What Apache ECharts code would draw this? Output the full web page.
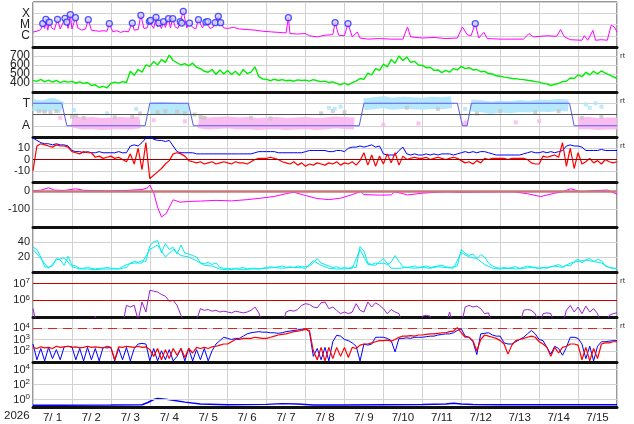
<!DOCTYPE html>
<html><head><meta charset="utf-8">
<script src="https://cdn.jsdelivr.net/npm/echarts@6/dist/echarts.min.js"></script>
<style>html,body{margin:0;padding:0;background:#fff}#c{width:634px;height:424px}</style>
</head><body><div id="c"></div>
<script>
// ================= DATA =================
const yearLabel = '2026';
const dateLabels = ['7/ 1','7/ 2','7/ 3','7/ 4','7/ 5','7/ 6','7/ 7','7/ 8','7/ 9','7/10','7/11','7/12','7/13','7/14','7/15'];
const STEP = 0.1;      // days between samples of the 0.1-day series
const STEP4 = 0.25;    // days between samples of the cloud series
const STEP5 = 0.2;     // days between samples of the second cyan series

// X-ray flux, log10(W/m2): background [day, log] and flare peaks [day, log]
const xrayBaseLog = [[0,-5.67],[0.1,-5.6],[0.2,-5.45],[0.3,-5.35],[0.38,-5.5],[0.48,-5.3],[0.55,-5.45],[0.7,-5.4],[0.75,-5.5],[0.9,-5.35],[1.0,-5.4],[1.15,-5.3],[1.25,-5.5],[1.35,-5.4],[1.5,-5.5],[1.6,-5.55],[1.7,-5.6],[1.8,-5.55],[1.9,-5.6],[2.05,-5.65],[2.15,-5.55],[2.25,-5.7],[2.35,-5.6],[2.45,-5.65],[2.6,-5.5],[2.7,-5.45],[2.85,-5.35],[2.93,-5.3],[3.1,-5.35],[3.2,-5.2],[3.3,-5.35],[3.4,-5.25],[3.53,-5.3],[3.65,-5.2],[3.72,-5.35],[3.95,-5.3],[4.1,-5.25],[4.18,-5.4],[4.35,-5.3],[4.55,-5.35],[4.62,-5.25],[4.9,-5.3],[5.0,-5.35],[5.15,-5.25],[5.3,-5.4],[5.5,-5.45],[5.7,-5.5],[5.9,-5.6],[6.1,-5.65],[6.3,-5.7],[6.5,-5.75],[6.6,-5.8],[6.8,-5.85],[6.99,-5.8],[7.1,-6.0],[7.3,-6.1],[7.5,-5.95],[7.7,-5.9],[7.85,-5.95],[8.0,-6.0],[8.2,-6.1],[8.33,-5.67],[8.4,-6.2],[8.6,-6.3],[8.9,-6.25],[9.2,-6.3],[9.5,-6.3],[9.62,-5.22],[9.7,-6.1],[10.0,-6.2],[10.3,-6.15],[10.6,-6.25],[10.9,-6.2],[11.03,-5.22],[11.15,-5.9],[11.25,-6.0],[11.45,-6.2],[11.58,-5.7],[11.67,-6.25],[12.0,-6.3],[12.3,-6.3],[12.6,-6.3],[12.74,-5.8],[12.85,-6.1],[13.2,-6.0],[13.45,-6.05],[13.55,-5.45],[13.65,-6.1],[13.8,-6.35],[14.1,-6.4],[14.16,-6.0],[14.25,-6.4],[14.38,-5.52],[14.45,-6.4],[14.6,-6.35],[14.75,-6.4],[14.85,-5.07],[14.93,-5.2],[15,-5.67]];
const flarePeaksLog = [[0.25,-4.92],[0.33,-4.54],[0.42,-4.8],[0.63,-4.54],[0.82,-4.45],[0.87,-4.78],[0.96,-4.12],[1.09,-4.39],[1.42,-4.57],[1.96,-4.92],[2.55,-4.87],[2.77,-4.18],[2.99,-4.72],[3.02,-4.63],[3.16,-4.36],[3.23,-4.87],[3.35,-4.74],[3.48,-4.48],[3.59,-4.48],[3.78,-4.74],[3.82,-4.87],[3.86,-3.83],[4.02,-4.87],[4.25,-4.57],[4.44,-4.78],[4.49,-4.74],[4.68,-4.84],[4.76,-4.27],[4.82,-4.84],[6.56,-4.39],[7.76,-4.83],[8.09,-4.92],[11.36,-4.92]];

// Solar wind speed (km/s), every 0.1 day
const windSpeed = [430,418,440,412,432,410,428,405,420,410,
 418,400,412,395,405,372,380,350,362,345,
 395,410,398,415,405,530,485,550,520,600,
 585,640,600,660,630,710,650,625,600,615,
 590,620,575,560,530,520,550,495,545,500,
 540,495,530,485,550,505,520,580,470,445,
 440,425,442,428,438,425,430,420,435,428,
 432,420,438,425,415,420,405,412,395,380,
 398,378,405,420,450,440,510,490,560,540,
 610,580,660,620,700,650,690,630,640,600,
 595,570,575,540,545,515,540,520,560,545,
 585,560,570,545,550,525,530,505,500,480,
 475,465,460,450,448,440,438,430,425,415,
 410,395,390,372,385,395,415,420,455,450,
 490,470,520,490,530,500,535,510,490,470,
 450];

// IMF sector polarity: T = 1, A = -1
const polarity = [[0,1],[0.74,1],[0.87,-1],[2.88,-1],[3.0,1],[3.99,1],[4.12,-1],[8.38,-1],[8.5,1],[10.9,1],[11.03,-1],[11.15,-1],[11.26,1],[13.78,1],[13.9,-1],[15,-1]];
const polCloudT = [0.85,0.7,0.95,0.6,null,null,null,null,null,null,null,null,0.55,0.6,0.55,0.5,0.45,
 null,null,null,null,null,null,null,null,null,null,null,null,null,null,null,null,null,
 0.9,1.0,1.1,0.95,1.05,1.0,0.95,1.05,1.0,1.1,null,0.8,0.75,0.6,0.7,0.65,0.75,0.7,0.8,0.75,0.85,0.8,
 null,null,null,null,null];
const polCloudA = [null,null,null,null,-0.6,-0.8,-0.75,-0.85,-0.8,-0.75,-0.8,-0.7,null,null,null,null,null,
 -0.7,-0.8,-0.75,-0.7,-0.8,-0.75,-0.85,-0.8,-0.75,-0.85,-0.8,-0.75,-0.85,-0.8,-0.7,-0.75,-0.8,
 null,null,null,null,null,null,null,null,null,null,null,null,null,null,null,null,null,null,null,null,null,null,
 -0.8,-0.75,-0.85,-0.8,-0.8];
const polGrayPts = [[0.15,0.3],[0.3,0.25],[0.45,0.2],[0.6,0.3],[1.0,-0.2],[1.1,-0.1],[1.3,-0.3],[2.1,-0.25],[2.55,-0.2],[2.75,0.1],[3.2,0.2],[3.4,0.3],[3.7,0.25],[3.9,0.1],[4.15,0.0],[4.3,-0.2],[4.4,-0.3],[5.6,-0.3],[6.1,-0.35],[7.4,0.1],[7.7,0.3],[8.0,0.2],[9.6,0.6],[10.4,0.5],[11.4,0.1],[12.0,0.3],[12.9,0.2],[13.5,0.3],[14.1,-0.3],[14.6,-0.2]];
const polBluePts = [[1.05,0.4],[1.9,0.1],[2.65,0.5],[7.6,0.6],[7.75,0.5],[7.9,0.7],[11.1,0.5],[14.2,0.9],[14.3,0.6],[14.45,1.0],[14.6,0.7]];
const polPinkPts = [[0.7,-0.3],[3.1,-0.5],[3.9,-0.6],[9.0,-0.9],[9.9,-0.8],[11.05,-0.8],[11.1,-0.9],[11.12,-0.7],[12.4,-0.7],[13.0,-0.6]];

// IMF |B| (blue) and Bz (red), nT, every 0.1 day
const imfBt = [19,17,15,14,14,13,14,13,13,12,
 8,7,7,6,7,6,6,7,6,6,
 6,6,7,6,6,12,13,12,15,19,
 20,18,17,17,16,17,12,7,6,6,
 6,6,5,5,5,5,5,5,5,5,
 5,5,5,5,5,5,5,6,7,7,
 7,7,7,6,6,6,6,6,6,6,
 7,8,8,8,8,8,7,7,8,8,
 7,10,11,11,12,11,12,13,11,12,
 5,4,4,4,8,11,5,4,5,4,
 4,5,4,5,4,5,5,5,4,5,
 6,7,6,7,6,7,7,6,5,4,
 4,4,4,4,4,4,5,6,7,6,
 6,7,6,7,6,7,8,12,13,12,
 12,11,8,8,8,8,9,8,8,8,
 8];
const imfBz = [-10,12,14,13,12,11,13,12,12,11,
 7,6,5,7,6,6,2,3,1,2,
 3,1,2,0,-2,5,-4,10,-9,15,
 -17,-14,-11,-8,-4,-1,5,6,5,3,
 -1,-2,-3,-2,-4,-3,-2,-4,-3,-2,
 -3,-4,-2,-3,-3,-4,-2,0,1,1,
 1,2,1,0,-2,-3,-4,-2,-5,-3,
 -6,-4,-5,-3,-4,-5,-3,-4,-2,-5,
 -3,-4,-2,-5,-1,6,-5,4,-6,3,
 -4,5,-3,6,-5,3,0,1,2,1,
 1,2,0,1,2,1,0,1,2,1,
 -1,-3,-2,-4,-1,-3,1,0,1,1,
 1,1,0,1,1,1,1,0,-3,-4,
 -4,3,2,3,4,2,15,-6,10,-8,
 6,-4,-2,1,-3,-1,-4,0,-2,-3,
 -2];

// Dst index (nT) [day, value]
const dst = [[0,2],[0.2,4],[0.4,18],[0.55,5],[0.8,3],[1.1,12],[1.3,4],[1.6,2],[2.0,1],[2.4,3],[2.8,8],[2.95,18],[3.0,33],[3.1,-10],[3.2,-90],[3.3,-144],[3.42,-125],[3.6,-49],[3.78,-62],[4.0,-58],[4.3,-56],[4.7,-52],[5.1,-55],[5.5,-48],[5.85,-40],[6.2,-30],[6.5,-15],[6.7,-7],[7.0,-25],[7.3,-42],[7.6,-48],[7.9,-40],[8.2,-20],[8.42,-3],[8.5,-20],[8.9,-23],[9.2,-22],[9.28,-5],[9.45,-12],[9.62,-22],[10.0,-12],[10.3,-8],[10.64,-5],[11.0,-8],[11.5,-6],[12.0,-5],[12.36,-5],[12.7,-15],[13.04,-31],[13.4,-12],[13.6,-5],[13.81,13],[14.07,-5],[14.4,2],[14.75,5],[15,-18]];

// Cyan index, two traces
const cyanA = [33,30,20,7,6,8,18,16,9,21,
 9,8,5,5,6,5,4,5,5,6,
 5,5,4,5,6,12,14,13,15,14,
 35,40,42,26,38,30,33,24,36,25,
 24,22,20,12,11,13,10,12,6,5,
 5,4,5,5,6,4,5,5,4,5,
 6,7,6,7,8,6,7,6,8,7,
 7,8,12,18,12,10,8,6,7,5,
 6,5,7,6,34,28,12,10,12,11,
 12,10,13,22,14,7,6,7,8,6,
 7,8,6,7,8,9,7,6,7,8,
 30,25,22,24,18,23,20,12,8,6,
 5,6,5,6,7,5,6,8,7,6,
 5,6,5,7,8,10,7,9,8,14,
 17,12,16,18,14,17,15,8,6,5,
 5];
const cyanB = [30,18,5,16,19,7,4,4,3,4,
 4,4,10,12,12,30,36,20,30,22,
 20,15,9,8,4,3,4,3,4,4,
 5,6,5,6,6,5,15,9,5,4,
 4,5,30,10,9,18,5,5,6,5,
 6,5,7,6,5,26,20,18,10,5,
 4,5,4,5,6,5,6,8,6,12,
 14,16,14,12,6,4];

// >2 MeV electron fluence, log10, every 0.1 day (4.5 = below scale)
const elec2MeVLog = [5.5,4.5,4.5,4.5,4.5,4.5,4.5,4.5,4.5,4.5,
 4.5,4.5,4.5,4.5,4.5,4.5,5.05,4.5,4.5,4.5,
 4.5,4.5,4.5,4.5,5.7,5.6,5.7,4.8,5.9,5.3,
 6.6,6.55,6.5,6.35,6.25,5.95,6.0,5.7,5.1,4.5,
 4.5,4.5,4.8,5.5,5.4,5.45,5.35,5.4,5.3,5.35,
 5.3,5.25,5.35,5.3,5.25,5.3,5.4,5.6,5.25,4.5,
 4.5,4.5,4.5,4.5,4.5,5.3,5.4,5.35,5.45,5.7,
 5.8,5.75,5.6,5.55,5.85,5.9,5.5,5.6,5.4,5.2,
 5.3,5.2,5.3,5.8,5.4,5.3,5.9,5.6,5.85,5.7,
 5.5,5.2,5.45,5.3,5.2,4.5,4.5,4.5,4.5,4.5,
 5.05,5.1,5.05,4.5,4.5,4.5,4.5,5.3,4.5,4.5,
 4.5,5.6,5.7,5.6,5.65,5.5,5.2,5.25,4.5,4.5,
 4.5,4.5,4.5,4.5,4.5,4.5,5.4,5.45,5.4,5.2,
 4.5,5.2,5.25,5.2,4.5,4.5,4.5,5.4,5.7,5.3,
 5.6,5.2,5.65,5.3,5.5,5.2,4.5,4.5,5.1,5.2,
 5.25];

// Electron flux, log10, every 0.1 day: blue and red traces
const elecBlueLog = [2.6,1.2,2.2,1.1,2.3,1.3,2.1,1.2,2.35,2.4,
 2.35,1.2,2.2,1.1,2.3,1.2,2.2,1.1,2.3,2.25,
 2.3,1.1,2.2,1.2,2.3,1.1,2.2,2.6,2.65,2.6,
 1.1,2.2,1.1,2.0,1.2,2.1,1.1,1.5,2.2,1.1,
 2.2,1.1,2.1,1.2,2.2,1.1,2.0,2.6,2.9,3.2,
 3.1,3.0,3.1,3.1,3.3,3.5,3.6,3.65,3.7,3.65,
 3.65,3.6,3.6,3.55,3.6,3.7,3.75,3.8,3.85,3.9,
 3.95,3.7,1.5,2.2,1.2,2.3,1.1,2.8,3.38,3.3,
 3.0,2.9,2.7,2.4,1.1,2.6,2.5,2.6,3.2,3.2,
 3.2,3.1,2.9,1.9,3.1,3.1,3.15,3.1,3.2,3.2,
 3.2,3.25,3.3,3.3,3.4,3.45,3.5,3.5,3.6,3.8,
 3.95,3.3,3.2,2.8,1.66,3.5,3.55,3.6,3.4,3.3,
 3.3,2.7,2.6,2.6,2.8,3.0,3.2,3.5,3.8,3.5,
 3.0,2.9,2.3,1.7,2.4,2.2,1.6,2.3,3.2,3.2,
 3.1,2.6,1.3,2.4,1.1,2.4,2.8,2.8,2.85,2.9,
 2.9];
const elecRedLog = [2.3,2.2,2.35,2.25,2.3,2.2,2.4,2.3,2.35,2.4,
 2.3,2.35,2.25,2.3,2.4,2.3,2.35,2.3,2.25,2.4,
 2.3,1.2,2.35,2.3,2.4,2.35,2.3,2.4,2.3,2.35,
 2.1,1.5,2.2,1.2,2.1,1.3,2.2,1.6,2.2,1.4,
 2.2,1.8,2.3,2.2,2.3,2.2,2.35,2.4,2.5,2.6,
 2.6,2.8,3.0,3.0,3.1,3.1,3.1,3.2,3.15,3.1,
 3.1,3.2,3.3,3.4,3.45,3.5,3.6,3.7,3.75,3.8,
 3.9,3.8,2.0,1.2,2.3,1.1,2.3,1.3,2.3,1.5,
 2.3,1.4,2.3,2.2,2.5,2.6,2.6,2.7,2.8,2.9,
 2.9,2.95,2.85,3.0,3.2,3.3,3.3,3.35,3.3,3.4,
 3.4,3.45,3.5,3.5,3.55,3.6,3.6,3.7,3.75,4.05,
 3.6,3.2,3.2,2.9,2.0,3.0,3.4,3.3,3.2,3.1,
 2.9,2.6,1.7,2.5,2.9,3.0,3.1,3.2,3.3,3.2,
 2.8,2.6,2.3,1.5,2.3,1.8,2.3,2.4,2.6,2.6,
 2.5,1.2,2.3,1.1,2.2,1.3,2.6,2.7,2.7,2.8,
 2.8];

// Proton flux, log10 [day, value]
const protonLog = [[0,-0.75],[0.68,-0.75],[0.7,-0.5],[0.72,-0.75],[2.0,-0.72],[2.8,-0.7],[2.95,-0.4],[3.1,0.0],[3.2,0.12],[3.4,0.05],[3.6,-0.1],[3.9,-0.35],[4.3,-0.6],[5.0,-0.7],[6.0,-0.65],[6.4,-0.55],[6.8,-0.6],[7.2,-0.72],[8.0,-0.72],[9.0,-0.7],[10.0,-0.68],[10.6,-0.6],[10.8,-0.5],[11.0,-0.6],[11.3,-0.68],[12,-0.7],[13,-0.7],[14,-0.7],[15,-0.7]];

// Threshold / reference levels
const elec2MeVThresholds = [6, 7];
const elecThreshold = [4];
const protonGridLevels = [0, 2, 4];

// ================= CHART =================
const FONT = 'Liberation Sans';
const series = (arr, step) => arr.map((v, i) => [+(i * step).toFixed(3), v]);
const xrayLine = xrayBaseLog.concat(flarePeaksLog).sort((a, b) => a[0] - b[0]);
const sup = n => '{b|10}{s|' + n + '}';

const panels = [
  {min:-7, max:-3, interval:1, labels:{'-6':'C','-5':'M','-4':'X'}, fs:12},
  {min:300, max:800, interval:100, labels:{'400':'400','500':'500','600':'600','700':'700'}, fs:12},
  {min:-2, max:2, interval:1, labels:{'1':'T','-1':'A'}, fs:12},
  {min:-20, max:20, interval:10, labels:{'10':'10','0':'0','-10':'-10'}},
  {min:-200, max:50, interval:100, labels:{'0':'0','-100':'-100'}},
  {min:0, max:60, interval:20, labels:{'20':'20','40':'40'}},
  {min:5, max:7.7, interval:1, labels:{'6':sup(6),'7':sup(7)}},
  {min:1, max:5, interval:1, labels:{'2':sup(2),'3':sup(3),'4':sup(4)}},
  {min:-1, max:5, interval:1, labels:{'0':sup(0),'2':sup(2),'4':sup(4)}, noSplit:true}
];
const TOP0 = 2, H = 45;
const grids = panels.map((p, i) => ({left:33, right:17, top:TOP0 + H * i, height:H, show:true,
  borderColor:'#333', borderWidth:1, backgroundColor:'transparent', outerBoundsMode:'none', containLabel:false}));
const xAxes = panels.map((p, i) => ({type:'value', gridIndex:i, min:0, max:15, interval:1,
  axisLine:{show:true, onZero:false, lineStyle:{color:'#111', width:3}}, axisTick:{show:false},
  axisLabel:{show:false}, splitLine:{show:true, lineStyle:{color:'#d2d2d2', width:1}}}));
xAxes.push({type:'category', gridIndex:8, data:dateLabels, boundaryGap:true, position:'bottom',
  axisLine:{show:false}, axisTick:{show:false}, splitLine:{show:false},
  axisLabel:{interval:0, margin:5, color:'#222', fontSize:11.5, fontFamily:FONT}});
const yAxes = panels.map((p, i) => ({type:'value', gridIndex:i, min:p.min, max:p.max, interval:p.interval,
  axisLine:{show:false}, axisTick:{show:false},
  splitLine:{show:!p.noSplit, lineStyle:{color:'#d2d2d2', width:1}},
  axisLabel:{show:true, margin:3, color:'#222', fontSize:p.fs || 11, fontFamily:FONT,
    showMinLabel:true, showMaxLabel:true, hideOverlap:false,
    formatter: v => { const k = String(Math.round(v * 100) / 100); return p.labels[k] !== undefined ? p.labels[k] : ''; },
    rich:{b:{fontSize:11, fontFamily:FONT, color:'#222'}, s:{fontSize:8, fontFamily:FONT, color:'#222', verticalAlign:'top', padding:[0,0,5,0]}}}}));

const ln = (idx, data, color, extra) => Object.assign({type:'line', xAxisIndex:idx, yAxisIndex:idx, data,
  showSymbol:false, symbol:'none', lineStyle:{color, width:1}, itemStyle:{color}, silent:true, z:3, clip:true}, extra || {});
const mk = (levels, color, width, type) => ({silent:true, symbol:'none', label:{show:false},
  lineStyle:{color, width, type:type || 'solid'}, data: levels.map(v => ({yAxis:v}))});
const pts = (idx, data, color, size) => ({type:'scatter', xAxisIndex:idx, yAxisIndex:idx, data,
  symbol:'rect', symbolSize:size || 3, itemStyle:{color}, silent:true, z:2});

const S = [];
// 0: X-ray
S.push(ln(0, xrayLine, '#ff00ff'));
S.push({type:'scatter', xAxisIndex:0, yAxisIndex:0, data:flarePeaksLog, symbol:'circle', symbolSize:6,
  itemStyle:{color:'#d4d4ff', borderColor:'#2a2aff', borderWidth:1.3}, z:4, silent:true});
// 1: wind speed
S.push(ln(1, series(windSpeed, STEP), '#00ee00', {lineStyle:{color:'#00ee00', width:1.4}}));
// 2: polarity
S.push(ln(2, series(polCloudT, STEP4), '#aee6fb', {lineStyle:{color:'#aee6fb', width:12, opacity:0.9}, z:1, connectNulls:false}));
S.push(ln(2, series(polCloudA, STEP4), '#f9b6f0', {lineStyle:{color:'#f9b6f0', width:12, opacity:0.9}, z:1, connectNulls:false}));
S.push(Object.assign(pts(2, polGrayPts, '#c6c6c6', 4), {markLine: mk([0], '#555', 1)}));
S.push(pts(2, polBluePts, '#aee6fb', 4));
S.push(pts(2, polPinkPts, '#f9b6f0', 4));
const polIdx = S.length;
S.push(ln(2, polarity, '#5b5bf0', {z:4}));
// 3: IMF
S.push(ln(3, series(imfBt, STEP), '#0000ff', {markLine: mk([0], '#990000', 1)}));
S.push(ln(3, series(imfBz, STEP), '#ff0000', {lineStyle:{color:'#ff0000', width:1.2}}));
// 4: Dst
S.push(ln(4, dst, '#ff00ff', {lineStyle:{opacity:0, width:0}, z:1, markLine: mk([0], '#c87878', 2.5)}));
S.push(ln(4, dst, '#ff00ff'));
// 5: cyan
S.push(ln(5, series(cyanB, STEP5), '#00eeee'));
S.push(ln(5, series(cyanA, STEP), '#00eeee'));
// 6: >2MeV electrons
S.push(ln(6, series(elec2MeVLog, STEP), '#9922cc', {markLine: mk(elec2MeVThresholds, '#cc0000', 1)}));
// 7: electrons
S.push(ln(7, series(elecBlueLog, STEP), '#0000ff', {markLine: mk(elecThreshold, '#dd2222', 1.2, [9, 6])}));
S.push(ln(7, series(elecRedLog, STEP), '#ff0000', {lineStyle:{color:'#ff0000', width:1.2}}));
// 8: protons
S.push(ln(8, protonLog, '#0000ff', {lineStyle:{color:'#0000ff', width:1.5}, markLine: mk(protonGridLevels, '#d2d2d2', 1)}));

const rtY = [57, 101.7, 146.7, 281.7, 326.7];
const graphics = rtY.map(y => ({type:'text', left:620, top:y - 5, silent:true,
  style:{text:'rt', fontSize:8, fontFamily:FONT, fill:'#333'}}));
graphics.push({type:'text', left:4, top:410, silent:true, style:{text:yearLabel, fontSize:11.5, fontFamily:FONT, fill:'#222'}});

const chart = echarts.init(document.getElementById('c'), null, {renderer:'canvas'});
chart.setOption({
  animation:false, backgroundColor:'#fff',
  grid:grids, xAxis:xAxes, yAxis:yAxes, series:S, graphic:graphics,
  visualMap:[{type:'piecewise', show:false, seriesIndex:polIdx, dimension:1,
    pieces:[{gt:0.95, color:'#5b5bf0'}, {lt:-0.95, color:'#e84848'}, {gte:-0.95, lte:0.95, color:'#3f7a3f'}]}]
});
</script></body></html>
